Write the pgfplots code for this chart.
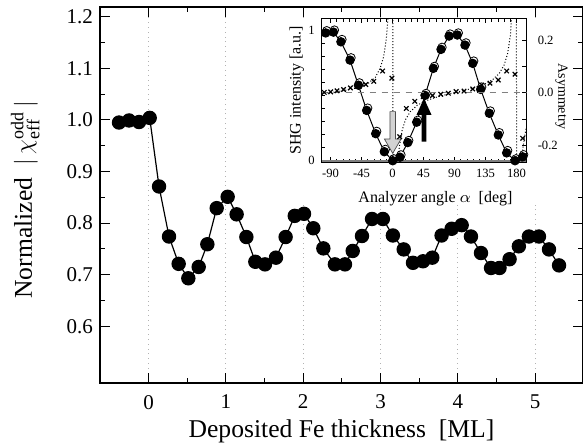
\documentclass[border=0pt]{standalone}
\usepackage{fontspec}
\setmainfont{Liberation Serif}
\usepackage{pgfplots}
\pgfplotsset{compat=1.18}

\pgfplotstableread{
x y
-0.384 0.995
-0.254 0.999
-0.125 0.996
0.013 1.004
0.134 0.871
0.263 0.774
0.388 0.721
0.513 0.693
0.647 0.715
0.759 0.759
0.880 0.829
1.022 0.851
1.138 0.817
1.264 0.773
1.380 0.725
1.505 0.720
1.647 0.733
1.772 0.773
1.890 0.814
2.010 0.818
2.13 0.790
2.26 0.751
2.41 0.720
2.54 0.720
2.64 0.746
2.76 0.775
2.89 0.808
3.03 0.808
3.16 0.776
3.30 0.749
3.42 0.723
3.55 0.726
3.67 0.733
3.79 0.776
3.92 0.789
4.05 0.796
4.17 0.774
4.30 0.742
4.43 0.713
4.54 0.713
4.67 0.730
4.79 0.755
4.92 0.774
5.05 0.774
5.18 0.749
5.31 0.718
}\maindata

\pgfplotstableread{
a I
-97.0 0.978
-85.8 0.984
-74.9 0.910
-61.7 0.770
-49.5 0.578
-37.5 0.385
-24.4 0.207
-11.9 0.069
0.3 0.0
10.8 0.027
22.1 0.139
35.1 0.295
47.2 0.500
59.3 0.707
70.4 0.852
82.1 0.954
94.1 0.962
105.2 0.885
116.4 0.745
128.0 0.546
140.5 0.363
153.6 0.197
165.7 0.060
177.8 0.0
188.9 0.030
}\filled

\pgfplotstableread{
a I
-95.5 0.995
-84.3 1.000
-73.4 0.928
-60.2 0.788
-48.0 0.596
-36.0 0.403
-22.9 0.225
-10.4 0.087
1.8 0.015
12.3 0.045
23.6 0.155
36.6 0.310
48.7 0.515
60.8 0.722
71.9 0.868
83.6 0.970
95.6 0.978
106.7 0.902
117.9 0.763
129.5 0.564
142.0 0.381
155.1 0.215
167.2 0.078
179.3 0.015
190.4 0.046
}\opencirc

\pgfplotstableread{
a A
-99.1 0.001
-89.8 0.003
-80.6 0.007
-71.1 0.012
-61.1 0.018
-51.0 0.025
-38.8 0.031
-27.2 0.043
-14.4 0.082
-0.9 0.055
10.4 -0.167
20.1 -0.060
32.3 -0.033
44.6 -0.015
58.0 -0.011
70.0 -0.006
81.0 -0.002
92.3 0.004
103.8 0.006
116.4 0.014
129.5 0.029
141.5 0.036
153.6 0.048
165.7 0.082
177.8 0.070
188.9 -0.173
}\asym

\pgfplotstableread{
a A
-103 -0.004
-90 0.000
-75 0.006
-60 0.013
-45 0.024
-35 0.036
-25 0.058
-18 0.092
-13 0.135
-9 0.2032
-6 0.2984
-3 0.556
-0.5 1.948
1.5 -1.948
4 -0.556
7 -0.2984
10 -0.2032
14 -0.1416
19 -0.1016
26 -0.0713
36 -0.0477
46 -0.0334
61 -0.0192
76 -0.0088
90 0.0
105 0.0091
120 0.0196
135 0.034
145 0.0486
155 0.0729
162 0.1046
167 0.1473
171 0.2147
174 0.3235
177 0.649
179 1.948
181 -1.948
183 -0.649
186 -0.3235
189 -0.2147
193 -0.1473
196 -0.1186
}\theory

\begin{document}
\begin{tikzpicture}
\begin{axis}[name=main, at={(0,0)}, anchor=south west, scale only axis,
 width=241.5pt, height=188pt,
 xmin=-0.63, xmax=5.62, ymin=0.49, ymax=1.219,
 xtick={0,1,2,3,4,5}, xticklabels={0,1,2,3,4,5}, minor x tick num=1,
 ytick={0.6,0.7,0.8,0.9,1.0,1.1,1.2},
 yticklabels={0.6,0.7,0.8,0.9,1.0,1.1,1.2}, minor y tick num=1,
 tick align=inside, major tick length=5pt, minor tick length=2.5pt,
 axis line style={line width=0.9pt}, tick style={line width=0.5pt, black},
 xmajorgrids, major x grid style={dotted, gray!60, line width=0.5pt},
 tick label style={font=\fontsize{10.5}{12}\selectfont},
 xticklabel style={yshift=-2.5pt},
 label style={font=\fontsize{12.8}{15}\selectfont},
 xlabel={Deposited Fe thickness \ [ML]},
 ylabel={Normalized \ $\big|\,\chi^{\mathrm{odd}}_{\mathrm{eff}}\,\big|$},
 xlabel style={at={(axis description cs:0.5,-0.128)}, anchor=center},
 ylabel style={at={(axis description cs:-0.155,0.487)}, anchor=center},
]
\addplot[black, line width=0.6pt, mark=*, mark size=3.3pt, mark options={fill=black}] table[x=x,y=y] {\maindata};
\end{axis}

\fill[white] (92.5pt,90pt) rectangle (236pt,181.5pt);

\begin{axis}[at={(110.85pt,110.35pt)}, anchor=south west, scale only axis,
 width=102.5pt, height=72pt,
 xmin=-102.8, xmax=194.8, ymin=-0.012, ymax=1.09,
 xtick={-90,-45,0,45,90,135,180}, xticklabels={-90,-45,0,45,90,135,180},
 minor x tick num=4,
 ytick={0,1}, yticklabels={0,1}, minor y tick num=9, ytick pos=left,
 tick align=inside, major tick length=2.5pt, minor tick length=1.8pt,
 axis line style={line width=0.5pt}, tick style={line width=0.4pt, black},
 tick label style={font=\fontsize{6.3}{7}\selectfont},
 label style={font=\fontsize{8}{9}\selectfont},
 xlabel={Analyzer angle $\alpha$ \ [deg]},
 ylabel={SHG intensity [a.u.]},
 xlabel style={at={(axis description cs:0.555,-0.255)}, anchor=center},
 ylabel style={at={(axis description cs:-0.122,0.5)}, anchor=center},
 axis background/.style={fill=white},
]
\addplot[gray, line width=1pt] coordinates {(-102.8,0) (194.8,0)};
\addplot[only marks, mark=*, mark size=2.1pt, mark options={fill=white, draw=black, line width=0.4pt}] table[x=a,y=I] {\opencirc};
\addplot[black, line width=0.5pt, mark=*, mark size=2.1pt, mark options={fill=black}] table[x=a,y=I] {\filled};
\end{axis}

\begin{axis}[at={(110.85pt,110.35pt)}, anchor=south west, scale only axis,
 width=102.5pt, height=72pt,
 xmin=-102.8, xmax=194.8, ymin=-0.264, ymax=0.282,
 axis x line=none, axis y line*=right,
 ytick={-0.2,0,0.2}, yticklabels={-0.2,0.0,0.2}, minor y tick num=1,
 tick align=inside, major tick length=2.5pt, minor tick length=2.5pt,
 axis line style={line width=0.5pt}, tick style={line width=0.4pt, black},
 tick label style={font=\fontsize{6.3}{7}\selectfont},
 yticklabel style={xshift=2pt},
 label style={font=\fontsize{7}{8}\selectfont},
 ylabel={Asymmetry},
 ylabel style={at={(axis description cs:1.17,0.456)}, anchor=center, rotate=180},
]
\addplot[gray, dashed, line width=0.5pt] coordinates {(-102.8,0) (194.8,0)};
\addplot[black, densely dotted, line width=0.5pt] table[x=a,y=A] {\theory};
\addplot[only marks, mark=x, mark size=1.6pt, mark options={line width=0.6pt}] table[x=a,y=A] {\asym};
\fill[gray!35, draw=gray!60!black, line width=0.35pt]
 (axis cs:-3.8,-0.072) -- (axis cs:4.4,-0.072) -- (axis cs:4.4,-0.176) -- (axis cs:12.3,-0.176)
 -- (axis cs:0.3,-0.230) -- (axis cs:-11.7,-0.176) -- (axis cs:-3.8,-0.176) -- cycle;
\fill[black]
 (axis cs:42.1,-0.186) -- (axis cs:49.3,-0.186) -- (axis cs:49.3,-0.0843) -- (axis cs:56.6,-0.0843)
 -- (axis cs:45.7,-0.0215) -- (axis cs:34.8,-0.0843) -- (axis cs:42.1,-0.0843) -- cycle;
\end{axis}

\pgfresetboundingbox
\path[use as bounding box] (-50pt,-32.5pt) rectangle (241.5pt,191.5pt);
\end{tikzpicture}
\end{document}
